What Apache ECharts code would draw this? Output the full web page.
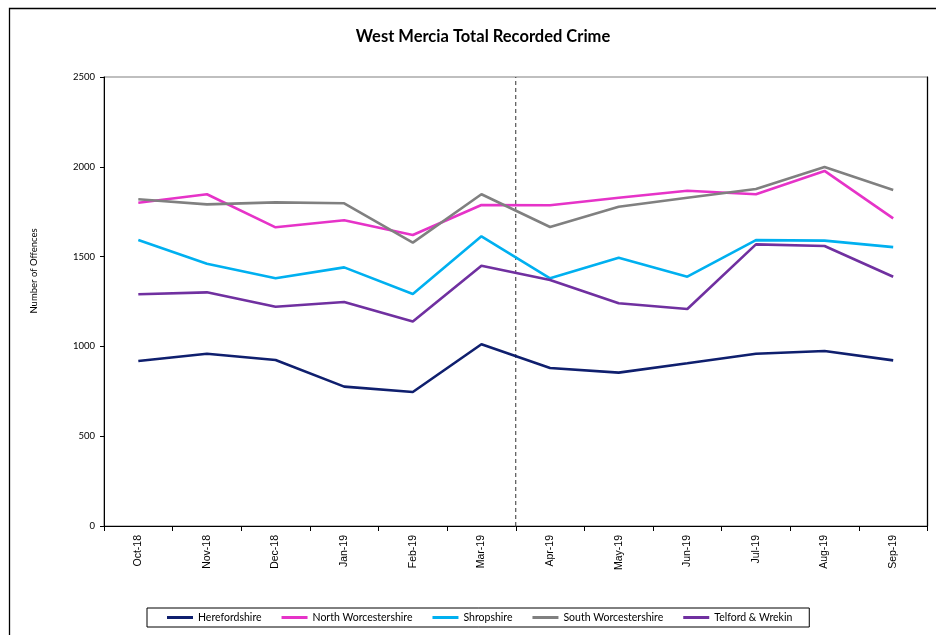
<!DOCTYPE html>
<html><head><meta charset="utf-8">
<script src="https://cdn.jsdelivr.net/npm/echarts@6/dist/echarts.min.js"></script>
<style>html,body{margin:0;padding:0;background:#fff}#c{width:936px;height:635px}</style>
</head><body><div id="c"></div>
<script>
const categories = ['Oct-18','Nov-18','Dec-18','Jan-19','Feb-19','Mar-19','Apr-19','May-19','Jun-19','Jul-19','Aug-19','Sep-19'];
const herefordshire = [919, 959, 924, 776, 746, 1012, 880, 854, 906, 959, 974, 922];
const northWorcestershire = [1800, 1847, 1663, 1702, 1620, 1787, 1786, 1828, 1867, 1847, 1977, 1713];
const shropshire = [1592, 1460, 1379, 1440, 1292, 1613, 1379, 1494, 1388, 1592, 1589, 1553];
const southWorcestershire = [1819, 1791, 1802, 1797, 1578, 1847, 1665, 1778, 1828, 1876, 1999, 1871];
const telfordWrekin = [1290, 1301, 1221, 1247, 1138, 1449, 1370, 1240, 1208, 1568, 1559, 1388];
const yTicks = [0, 500, 1000, 1500, 2000, 2500];
const dividerAt = 6; // boundary between Mar-19 and Apr-19

const cal = "Lato,'Open Sans',sans-serif";
const ari = "'Liberation Sans',Arial,sans-serif";
const chart = echarts.init(document.getElementById('c'));
function ser(name, data, color) {
  return {name, type:'line', data, symbol:'none', lineStyle:{color, width:2.6}, itemStyle:{color}, z:3};
}
chart.setOption({
  animation:false,
  title:{text:'West Mercia Total Recorded Crime', left:478, top:23, textAlign:'center',
    textStyle:{fontFamily:cal, fontSize:16.5, fontWeight:'bold', color:'#000'}},
  graphic:[
    {type:'rect', shape:{x:9.5,y:8.5,width:960,height:700}, style:{fill:'none', stroke:'#000', lineWidth:1.3}, silent:true},
    {type:'text', x:34, y:271, rotation:Math.PI/2, style:{text:'Number of Offences', fontFamily:cal, fontSize:9.5, fill:'#000', align:'center', verticalAlign:'middle'}, silent:true}
  ],
  grid:{left:104, right:8.5, top:77, bottom:109, show:true, borderColor:'#808080', borderWidth:1.2, backgroundColor:'transparent'},
  legend:{top:608, left:147, itemWidth:26, itemHeight:3, itemGap:20, icon:'rect',
    padding:[4,17,4,20], borderColor:'#000', borderWidth:1,
    textStyle:{fontFamily:cal, fontSize:10.5, color:'#000'},
    data:['Herefordshire','North Worcestershire','Shropshire','South Worcestershire','Telford & Wrekin']},
  xAxis:[{type:'category', data:categories, boundaryGap:true,
    axisLine:{lineStyle:{color:'#000', width:1}},
    axisTick:{show:true, length:5, lineStyle:{color:'#000'}},
    axisLabel:{rotate:90, fontFamily:ari, fontSize:10.5, color:'#000', margin:9}},
   {type:'value', min:0, max:12, show:false}],
  yAxis:[{type:'value', min:yTicks[0], max:yTicks[yTicks.length-1], interval:500,
    axisLine:{show:true, lineStyle:{color:'#000'}},
    axisTick:{show:true, length:4, lineStyle:{color:'#000'}},
    axisLabel:{fontFamily:cal, fontSize:9.5, color:'#000', margin:9, formatter:v=>String(v)},
    splitLine:{show:false}},
   {type:'value', position:'right', min:yTicks[0], max:yTicks[yTicks.length-1],
    axisLine:{show:true, lineStyle:{color:'#000', width:1.2}}, axisTick:{show:false}, axisLabel:{show:false}, splitLine:{show:false}}],
  series:[
    ser('Herefordshire', herefordshire, '#0f1f6e'),
    ser('North Worcestershire', northWorcestershire, '#e633c8'),
    ser('Shropshire', shropshire, '#00b0f0'),
    ser('South Worcestershire', southWorcestershire, '#808080'),
    ser('Telford & Wrekin', telfordWrekin, '#7030a0'),
    {type:'line', xAxisIndex:1, data:[[dividerAt, yTicks[0]],[dividerAt, yTicks[yTicks.length-1]]], symbol:'none',
      lineStyle:{color:'#333', width:1, type:[4,3]}, silent:true, z:2}
  ]
});
</script></body></html>
